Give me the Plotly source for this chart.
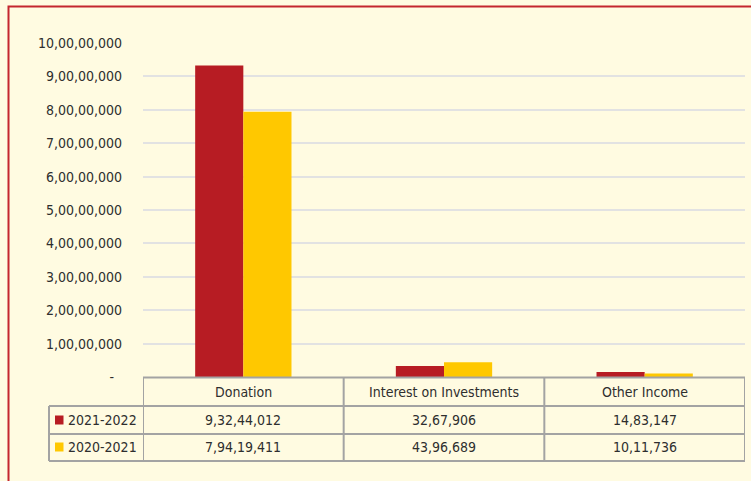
import plotly.graph_objects as go

categories = ["Donation", "Interest on Investments", "Other Income"]
series_names = ["2021-2022", "2020-2021"]
values_2122 = [93244012, 3267906, 1483147]
values_2021 = [79419411, 4396689, 1011736]
tick_vals = [0, 10000000, 20000000, 30000000, 40000000, 50000000,
             60000000, 70000000, 80000000, 90000000, 100000000]

RED = "#B71C23"
YEL = "#FFC800"
BG = "#FFFBE1"
GRID = "#A3A3A3"
TXT = "#2E2E2E"
FONT = "Liberation Sans Narrow, DejaVu Sans Condensed, sans-serif"
FS = 14


def indian(n):
    s = str(int(n))
    if len(s) <= 3:
        return s
    last3 = s[-3:]
    rest = s[:-3]
    parts = []
    while len(rest) > 2:
        parts.insert(0, rest[-2:])
        rest = rest[:-2]
    if rest:
        parts.insert(0, rest)
    return ",".join(parts) + "," + last3


tick_text = [indian(v) if v else "-  " for v in tick_vals]

W, H = 751, 481
L, R, T, B = 143, 6, 43, 104
PW = W - L - R
PH = H - T - B


def py(p):  # pixel y -> paper y
    return (H - B - p) / PH


def px(p):  # pixel x -> paper x
    return (p - L) / PW


fig = go.Figure()
fig.add_trace(go.Bar(x=[0, 1, 2], y=values_2122, name=series_names[0],
                     marker=dict(color=RED, line=dict(width=0))))
fig.add_trace(go.Bar(x=[0, 1, 2], y=values_2021, name=series_names[1],
                     marker=dict(color=YEL, line=dict(width=0))))

shapes = []
annotations = []
row_y = [377.5, 406, 434, 461]
for i, yy in enumerate(row_y):
    if i == 0:
        shapes.append(dict(type="line", xref="x", yref="paper", x0=-0.5, x1=2.5,
                           y0=py(yy), y1=py(yy), line=dict(color=GRID, width=2)))
    else:
        shapes.append(dict(type="line", xref="paper", yref="paper", x0=px(49), x1=px(745),
                           y0=py(yy), y1=py(yy), line=dict(color=GRID, width=2)))
for k in range(4):
    shapes.append(dict(type="line", xref="x", yref="paper", x0=-0.5 + k, x1=-0.5 + k,
                       y0=py(377.5), y1=py(461), line=dict(color=GRID, width=2)))
shapes.append(dict(type="line", xref="paper", yref="paper", x0=px(49), x1=px(49),
                   y0=py(406), y1=py(461), line=dict(color=GRID, width=2)))

tf = dict(size=FS, color=TXT, family=FONT)
for i, c in enumerate(categories):
    annotations.append(dict(x=i, y=py(392), xref="x", yref="paper", text=c,
                            yanchor="middle", xanchor="center", showarrow=False, font=tf))
    annotations.append(dict(x=i, y=py(420), xref="x", yref="paper", text=indian(values_2122[i]),
                            yanchor="middle", xanchor="center", showarrow=False, font=tf))
    annotations.append(dict(x=i, y=py(447), xref="x", yref="paper", text=indian(values_2021[i]),
                            yanchor="middle", xanchor="center", showarrow=False, font=tf))

for name, col, yc in [(series_names[0], RED, 420), (series_names[1], YEL, 447)]:
    shapes.append(dict(type="rect", xref="paper", yref="paper", x0=px(55), x1=px(63.5),
                       y0=py(yc - 4.5), y1=py(yc + 4.5), fillcolor=col, line=dict(width=0)))
    annotations.append(dict(x=px(66), y=py(yc), xref="paper", yref="paper", text=name,
                            xanchor="left", yanchor="middle", showarrow=False, font=tf))

shapes.append(dict(type="rect", xref="paper", yref="paper", x0=px(8.5), x1=px(770),
                   y0=py(500), y1=py(6.5), line=dict(color="#C4262E", width=2),
                   fillcolor="rgba(0,0,0,0)", layer="above"))

fig.update_layout(
    width=W, height=H,
    margin=dict(l=L, r=R, t=T, b=B, pad=0),
    paper_bgcolor=BG, plot_bgcolor=BG,
    barmode="group", bargap=0.52, bargroupgap=0,
    showlegend=False,
    font=dict(family=FONT, size=FS, color=TXT),
    xaxis=dict(range=[-0.5, 2.5], showticklabels=False, showgrid=False,
               zeroline=False, showline=False, ticks=""),
    yaxis=dict(range=[0, 100000000], tickvals=tick_vals, ticktext=tick_text,
               showgrid=True, gridcolor="#E2E2E2", gridwidth=2, zeroline=False,
               showline=False, ticks="", ticklabelstandoff=20, tickfont=tf),
    shapes=shapes, annotations=annotations,
)

fig.write_html("out.html", config={"displayModeBar": False},
               post_script="document.body.style.margin='0px';")
